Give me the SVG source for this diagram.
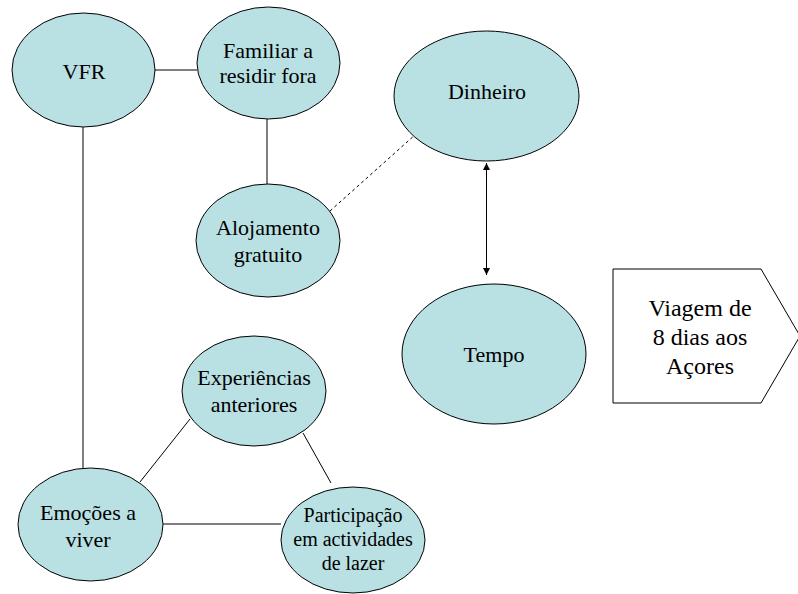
<svg xmlns="http://www.w3.org/2000/svg" width="798" height="594" viewBox="0 0 798 594">
<style>
.n{fill:#b9e0e3;stroke:#000;stroke-width:1}
.t{fill:#000;text-anchor:middle}
.c{stroke:#000;stroke-width:1;fill:none}
</style>
<defs>
<marker id="ah" viewBox="0 0 10 10" refX="10" refY="5" markerWidth="7" markerHeight="7" orient="auto-start-reverse" markerUnits="userSpaceOnUse">
<path d="M0,0 L10,5 L0,10 z" fill="#000"/>
</marker>
</defs>
<rect width="798" height="594" fill="#fff"/>
<g id="connectors">
<line class="c" x1="155" y1="70" x2="197" y2="70"/>
<line class="c" x1="267" y1="119" x2="267" y2="184"/>
<line class="c" x1="83" y1="127" x2="83" y2="468"/>
<line class="c" x1="330" y1="211" x2="416" y2="134" stroke-dasharray="3,3"/>
<line class="c" x1="486.5" y1="163" x2="486.5" y2="275" marker-start="url(#ah)" marker-end="url(#ah)"/>
<line class="c" x1="140" y1="482" x2="190" y2="419"/>
<line class="c" x1="303" y1="433" x2="331" y2="483"/>
<line class="c" x1="163" y1="524" x2="281" y2="524"/>
</g>
<g id="vfr">
<ellipse class="n" cx="83.5" cy="70" rx="71.5" ry="57"/>
<text class="t" x="84" y="79" font-family="Times New Roman, serif" font-size="22">VFR</text>
</g>
<g id="familiar">
<ellipse class="n" cx="268.5" cy="63" rx="71.5" ry="56"/>
<text class="t" x="268" y="58" font-family="Times New Roman, serif" font-size="22">Familiar a</text>
<text class="t" x="268" y="83" font-family="Times New Roman, serif" font-size="22">residir fora</text>
</g>
<g id="alojamento">
<ellipse class="n" cx="268" cy="240.5" rx="72" ry="56.5"/>
<text class="t" x="268" y="235" font-family="Times New Roman, serif" font-size="22">Alojamento</text>
<text class="t" x="268" y="262" font-family="Times New Roman, serif" font-size="22">gratuito</text>
</g>
<g id="dinheiro">
<ellipse class="n" cx="486.5" cy="96" rx="92.5" ry="65"/>
<text class="t" x="487" y="99" font-family="Times New Roman, serif" font-size="22">Dinheiro</text>
</g>
<g id="tempo">
<ellipse class="n" cx="494" cy="354" rx="92" ry="70"/>
<text class="t" x="494" y="362" font-family="Times New Roman, serif" font-size="22">Tempo</text>
</g>
<g id="viagem">
<polygon points="613,269 761,269 800,336 761,403 613,403" fill="#fff" stroke="#000" stroke-width="1"/>
<text class="t" x="700" y="316" font-family="Times New Roman, serif" font-size="24">Viagem de</text>
<text class="t" x="700" y="345" font-family="Times New Roman, serif" font-size="24">8 dias aos</text>
<text class="t" x="700" y="374" font-family="Times New Roman, serif" font-size="24">Açores</text>
</g>
<g id="experiencias">
<ellipse class="n" cx="254" cy="391" rx="72" ry="55"/>
<text class="t" x="254" y="385" font-family="Times New Roman, serif" font-size="22">Experiências</text>
<text class="t" x="254" y="412" font-family="Times New Roman, serif" font-size="22">anteriores</text>
</g>
<g id="emocoes">
<ellipse class="n" cx="90.5" cy="524.5" rx="72.5" ry="56.5"/>
<text class="t" x="88" y="520" font-family="Times New Roman, serif" font-size="22">Emoções a</text>
<text class="t" x="88" y="547" font-family="Times New Roman, serif" font-size="22">viver</text>
</g>
<g id="participacao">
<ellipse class="n" cx="353" cy="540" rx="72" ry="53"/>
<text class="t" x="353" y="522" font-family="Times New Roman, serif" font-size="20">Participação</text>
<text class="t" x="353" y="546" font-family="Times New Roman, serif" font-size="20">em actividades</text>
<text class="t" x="353" y="570" font-family="Times New Roman, serif" font-size="20">de lazer</text>
</g>
</svg>
